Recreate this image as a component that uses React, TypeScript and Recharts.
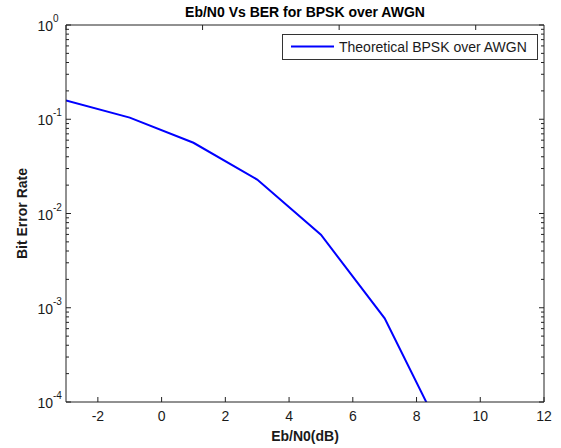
import { Legend, Line, LineChart, XAxis, YAxis } from "recharts"

const ebN0 = [-3, -1, 1, 3, 5, 7, 9, 11]
const berTheory = [0.1587, 0.104, 0.0563, 0.0229, 0.00595, 0.000773, 0.0000336, 0.00000026]

const xTicks = [-2, 0, 2, 4, 6, 8, 10, 12]
const yDecades = [0.0001, 0.001, 0.01, 0.1, 1]
const yDecadeLabels = ["-4", "-3", "-2", "-1", "0"]
const yMinorSteps = [2, 3, 4, 5, 6, 7, 8, 9]

const data = ebN0.map((x, i) => ({ x, ber: berTheory[i] }))

const yTicks = [
  ...yDecades,
  ...yDecades.slice(0, -1).flatMap((d) => yMinorSteps.map((m) => m * d)),
].sort((a, b) => a - b)

const font = '"Liberation Sans", Arial, sans-serif'
const textColor = "#1a1a1a"
const axisColor = "#222"

const isMajor = (v: number) => {
  const l = Math.log10(v)
  return Math.abs(l - Math.round(l)) < 1e-9
}

function BottomTick(props: any) {
  const { x, y, payload } = props
  return (
    <g>
      <line x1={x} x2={x} y1={y} y2={y - 5} stroke={axisColor} />
      <text x={x} y={y + 19} textAnchor="middle" fontSize={14} fontFamily={font} fill={textColor}>
        {payload.value}
      </text>
    </g>
  )
}

function TopTick(props: any) {
  const { x, y } = props
  return <line x1={x} x2={x} y1={y} y2={y + 5} stroke={axisColor} />
}

function LeftTick(props: any) {
  const { x, y, payload } = props
  const major = isMajor(payload.value)
  const idx = yDecades.findIndex((d) => Math.abs(Math.log10(d) - Math.log10(payload.value)) < 1e-9)
  return (
    <g>
      <line x1={x} x2={x + (major ? 5 : 3)} y1={y} y2={y} stroke={axisColor} />
      {major && (
        <g fontFamily={font} fill={textColor}>
          <text x={x - 13} y={y + 6} textAnchor="end" fontSize={14}>
            10
          </text>
          <text x={x - 13} y={y - 3} fontSize={10}>
            {yDecadeLabels[idx]}
          </text>
        </g>
      )}
    </g>
  )
}

function RightTick(props: any) {
  const { x, y, payload } = props
  const major = isMajor(payload.value)
  return <line x1={x} x2={x - (major ? 5 : 3)} y1={y} y2={y} stroke={axisColor} />
}

function LegendBox(props: any) {
  const item = props.payload?.[0]
  return (
    <div
      style={{
        border: "1px solid #333",
        background: "#fff",
        width: 254,
        height: 24,
        display: "flex",
        alignItems: "center",
        fontFamily: font,
        fontSize: 14,
        color: textColor,
      }}
    >
      <svg width={56} height={24}>
        <line x1={8} x2={51} y1={11.5} y2={11.5} stroke={item?.color ?? "#0000ff"} strokeWidth={2} />
      </svg>
      <span>{item?.value}</span>
    </div>
  )
}

export default function App() {
  return (
    <div style={{ position: "absolute", left: 0, top: 0 }}>
      <LineChart width={561} height={448} data={data} margin={{ top: 24, right: 16, bottom: 0, left: 0 }}>
        <XAxis
          dataKey="x"
          type="number"
          domain={[-3, 12]}
          ticks={xTicks}
          interval={0}
          allowDataOverflow
          height={46}
          tickSize={0}
          tickMargin={0}
          tickLine={false}
          tick={<BottomTick />}
          axisLine={{ stroke: axisColor }}
          label={{
            content: (p: any) => (
              <text
                x={p.viewBox.x + p.viewBox.width / 2}
                y={p.viewBox.y + 39}
                textAnchor="middle"
                fontSize={14}
                fontWeight="bold"
                fontFamily={font}
                fill={textColor}
              >
                Eb/N0(dB)
              </text>
            ),
          }}
        />
        <XAxis
          xAxisId="top"
          orientation="top"
          type="number"
          domain={[-3, 12]}
          ticks={xTicks.slice(0, -1)}
          interval={0}
          allowDataOverflow
          height={1}
          tickSize={0}
          tickMargin={0}
          tickLine={false}
          tick={<TopTick />}
          axisLine={{ stroke: axisColor }}
          label={{
            content: (p: any) => (
              <text
                x={p.viewBox.x + p.viewBox.width / 2}
                y={17}
                textAnchor="middle"
                fontSize={14}
                fontWeight="bold"
                fontFamily={font}
                fill="#000"
              >
                Eb/N0 Vs BER for BPSK over AWGN
              </text>
            ),
          }}
        />
        <YAxis
          scale="log"
          domain={[0.0001, 1]}
          ticks={yTicks}
          interval={0}
          allowDataOverflow
          width={66}
          tickSize={0}
          tickMargin={0}
          tickLine={false}
          tick={<LeftTick />}
          axisLine={{ stroke: axisColor }}
          label={{
            content: (p: any) => {
              const cy = p.viewBox.y + p.viewBox.height / 2
              return (
                <text
                  x={27}
                  y={cy}
                  transform={`rotate(-90 27 ${cy})`}
                  textAnchor="middle"
                  fontSize={14}
                  fontWeight="bold"
                  fontFamily={font}
                  fill={textColor}
                >
                  Bit Error Rate
                </text>
              )
            },
          }}
        />
        <YAxis
          yAxisId="right"
          orientation="right"
          scale="log"
          domain={[0.0001, 1]}
          ticks={yTicks}
          interval={0}
          allowDataOverflow
          width={1}
          tickSize={0}
          tickMargin={0}
          tickLine={false}
          tick={<RightTick />}
          axisLine={{ stroke: axisColor }}
        />
        <Legend
          layout="vertical"
          align="center"
          verticalAlign="middle"
          wrapperStyle={{ left: 282, top: 34 }}
          content={<LegendBox />}
        />
        <Line
          type="linear"
          dataKey="ber"
          name="Theoretical BPSK over AWGN"
          stroke="#0000ff"
          strokeWidth={2}
          dot={false}
          isAnimationActive={false}
        />
      </LineChart>
    </div>
  )
}
